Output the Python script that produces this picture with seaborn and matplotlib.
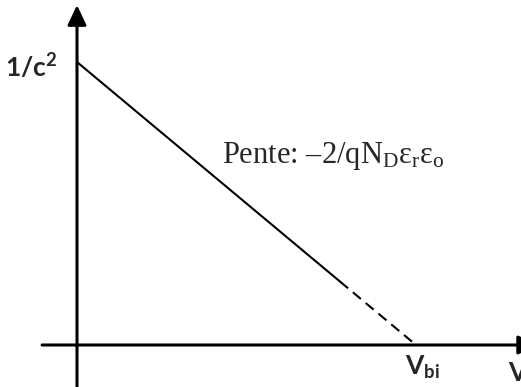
import pandas as pd
import seaborn as sns
import matplotlib.pyplot as plt

sns.set_style("white")
plt.rcParams["mathtext.fontset"] = "custom"
plt.rcParams["mathtext.rm"] = "Liberation Serif"
plt.rcParams["mathtext.it"] = "Liberation Serif"
plt.rcParams["mathtext.bf"] = "Lato:bold"

# line 1/c^2 vs V, intercept normalised to 1, V_bi normalised to 1
x_solid = [0.0, 0.776]
y_solid = [1.0, 0.224]
x_dashed = [0.776, 1.0]
y_dashed = [0.224, 0.0]

df = pd.DataFrame({
    "x": x_solid + x_dashed,
    "y": y_solid + y_dashed,
    "part": ["solid"] * 2 + ["dashed"] * 2,
})

fig = plt.figure(figsize=(5.21, 3.87), dpi=100)
ax = fig.add_axes([0, 0, 1, 1])
ax.set_xlim(-77 / 339, 444 / 339)
ax.set_ylim(-42 / 283, 345 / 283)
ax.axis("off")

sns.lineplot(data=df, x="x", y="y", style="part",
             dashes={"solid": "", "dashed": (5, 3)},
             color="black", lw=1.5, legend=False, sort=False,
             estimator=None, ax=ax)

# axes with arrows
arrow = dict(arrowstyle="-|>,head_length=0.4,head_width=0.19",
             color="black", lw=2.2, mutation_scale=30, shrinkA=0, shrinkB=0)
ax.annotate("", xy=(0, 1.201), xytext=(0, -0.16), arrowprops=arrow,
            annotation_clip=False)
ax.annotate("", xy=(1.36, 0), xytext=(-0.103, 0), arrowprops=arrow,
            annotation_clip=False)

ax.text(-0.059, 0.947, r"$\mathbf{1/c^2}$", fontsize=19,
        ha="right", va="baseline")
ax.text(0.968, -0.106, r"$\mathbf{V_{bi}}$", fontsize=19,
        ha="left", va="baseline")
ax.text(1.271, -0.127, r"$\mathbf{V}$", fontsize=19,
        ha="left", va="baseline")
ax.text(0.428, 0.643, r"Pente: $\mathrm{–2/qN_D\varepsilon_r\varepsilon_o}$",
        fontsize=22, family="Liberation Serif", ha="left", va="baseline")

plt.savefig("out.png", dpi=100)
